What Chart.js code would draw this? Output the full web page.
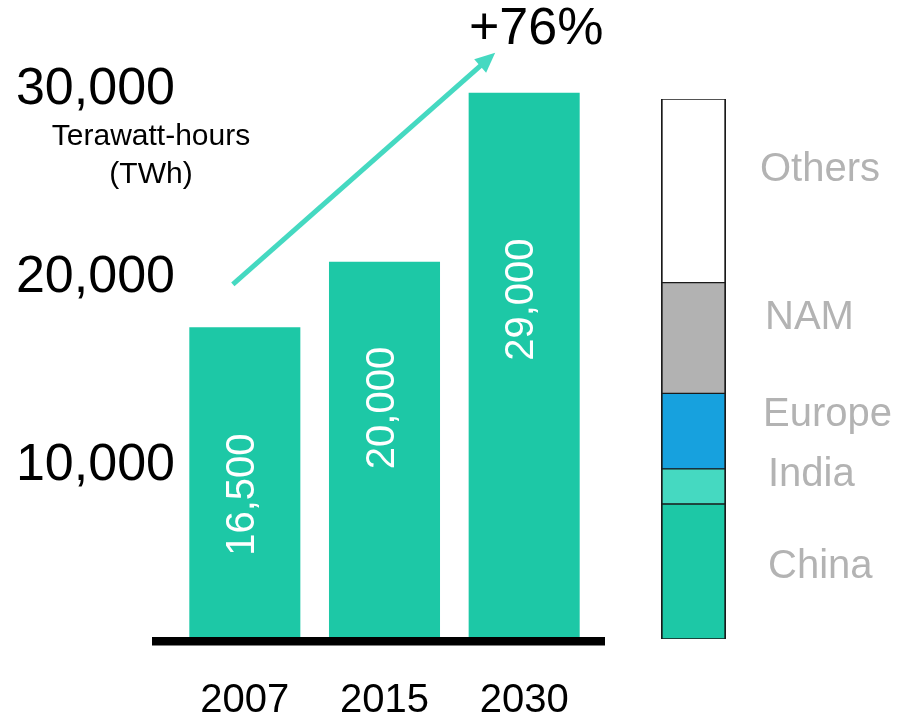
<!DOCTYPE html>
<html>
<head>
<meta charset="utf-8">
<title>Electricity demand</title>
<script src="https://cdn.jsdelivr.net/npm/chart.js@4/dist/chart.umd.min.js"></script>
<style>
  body { margin: 0; background: #fff; }
  #wrap { position: relative; width: 899px; height: 718px; }
  #demandChart { position: absolute; left: 0; top: 0; }
  #shareChart { position: absolute; left: 640px; top: 0; }
</style>
</head>
<body>
<div id="wrap">
  <canvas id="demandChart" width="640" height="718"></canvas>
  <canvas id="shareChart" width="259" height="718"></canvas>
</div>
<script>
// demand per year (TWh)
const years = ["2007", "2015", "2030"];
const demandTWh = [16500, 20000, 29000];
const yTickStep = 10000;
const yMax = 30000;

// 2030 split by region (%)
const regions = ["China", "India", "Europe", "NAM", "Others"];
const regionShare = [25, 6.5, 14, 20.5, 34];

const barColor = "#1DC8A6";
const arrowColor = "#45D9C1";
const regionColors = ["#1DC8A6", "#45D9C1", "#17A1DE", "#B2B2B2", "#FFFFFF"];

Chart.defaults.font.family = "'Liberation Sans', Arial, sans-serif";
Chart.defaults.color = "#000";

function fmt(v) {
  return v.toLocaleString("en-US");
}

// thick baseline under the bars
const baseline = {
  id: "baseline",
  afterDatasetsDraw(chart) {
    const { ctx, chartArea } = chart;
    ctx.save();
    ctx.fillStyle = "#000";
    ctx.fillRect(chartArea.left - 23, chartArea.bottom, chartArea.right - chartArea.left + 34, 8.5);
    ctx.restore();
  },
};

// rotated value inside each bar
const labelRise = [0.46, 0.61, 0.62];
const barValues = {
  id: "barValues",
  afterDatasetsDraw(chart) {
    const { ctx } = chart;
    const meta = chart.getDatasetMeta(0);
    ctx.save();
    ctx.fillStyle = "#fff";
    ctx.font = "40px 'Liberation Sans', Arial, sans-serif";
    ctx.textAlign = "center";
    ctx.textBaseline = "middle";
    meta.data.forEach((bar, i) => {
      const y = bar.base - (bar.base - bar.y) * labelRise[i];
      ctx.save();
      ctx.translate(bar.x - 2, y);
      ctx.rotate(-Math.PI / 2);
      ctx.fillText(fmt(demandTWh[i]), 0, 0);
      ctx.restore();
    });
    ctx.restore();
  },
};

// growth arrow, unit caption and percentage
const growth = {
  id: "growth",
  afterDraw(chart) {
    const { ctx } = chart;
    const x = chart.scales.x;
    const y = chart.scales.y;
    const last = demandTWh.length - 1;
    const x0 = x.getPixelForValue(0) - 12;
    const y0 = y.getPixelForValue(demandTWh[0]) - 43;
    const x1 = x.getPixelForValue(last) - 29;
    const y1 = y.getPixelForValue(demandTWh[last]) - 40;
    const ang = Math.atan2(y1 - y0, x1 - x0);
    const head = 20;
    const half = 9;

    ctx.save();
    ctx.strokeStyle = arrowColor;
    ctx.fillStyle = arrowColor;
    ctx.lineWidth = 5;
    ctx.beginPath();
    ctx.moveTo(x0, y0);
    ctx.lineTo(x1 - Math.cos(ang) * head * 0.8, y1 - Math.sin(ang) * head * 0.8);
    ctx.stroke();
    ctx.beginPath();
    ctx.moveTo(x1, y1);
    ctx.lineTo(x1 - Math.cos(ang) * head - Math.sin(ang) * half, y1 - Math.sin(ang) * head + Math.cos(ang) * half);
    ctx.lineTo(x1 - Math.cos(ang) * head + Math.sin(ang) * half, y1 - Math.sin(ang) * head - Math.cos(ang) * half);
    ctx.closePath();
    ctx.fill();

    const pct = Math.round((demandTWh[last] / demandTWh[0] - 1) * 100);
    ctx.fillStyle = "#000";
    ctx.textAlign = "center";
    ctx.textBaseline = "middle";
    ctx.font = "52px 'Liberation Sans', Arial, sans-serif";
    ctx.fillText("+" + pct + "%", x1 + 41, y1 - 23);

    ctx.font = "30px 'Liberation Sans', Arial, sans-serif";
    const ty = y.getPixelForValue(yMax);
    ctx.fillText("Terawatt-hours", y.right - 24, ty + 63);
    ctx.fillText("(TWh)", y.right - 24, ty + 101);
    ctx.restore();
  },
};

new Chart(document.getElementById("demandChart"), {
  type: "bar",
  data: {
    labels: years,
    datasets: [
      {
        data: demandTWh,
        backgroundColor: barColor,
        barPercentage: 0.795,
        categoryPercentage: 1,
      },
    ],
  },
  options: {
    responsive: false,
    animation: false,
    layout: { padding: { top: 74, right: 46, bottom: 0, left: 0 } },
    plugins: { legend: { display: false }, tooltip: { enabled: false } },
    scales: {
      x: {
        grid: { display: false, drawTicks: false },
        border: { display: false },
        ticks: { font: { size: 40 }, color: "#000", padding: 40 },
        afterFit: (s) => {
          s.height = 81;
        },
      },
      y: {
        min: 0,
        max: yMax,
        grid: { display: false, drawTicks: false },
        border: { display: false },
        ticks: {
          stepSize: yTickStep,
          font: { size: 52 },
          color: "#000",
          padding: 0,
          labelOffset: 16,
          callback: (v) => (v ? fmt(v) : ""),
        },
        afterFit: (s) => {
          s.width = 175;
        },
      },
    },
  },
  plugins: [baseline, barValues, growth],
});

// region names beside the stacked column
const labelNudge = [
  [0, -5],
  [0, -11],
  [-5, -16],
  [-3, -20],
  [-8, -21],
];
const regionLabels = {
  id: "regionLabels",
  afterDraw(chart) {
    const { ctx, chartArea } = chart;
    ctx.save();
    ctx.fillStyle = "#B3B3B3";
    ctx.font = "40px 'Liberation Sans', Arial, sans-serif";
    ctx.textAlign = "left";
    ctx.textBaseline = "middle";
    chart.data.datasets.forEach((ds, i) => {
      const bar = chart.getDatasetMeta(i).data[0];
      const cy = (bar.y + bar.base) / 2;
      ctx.fillText(ds.label, chartArea.right + 42 + labelNudge[i][0], cy + labelNudge[i][1]);
    });
    ctx.restore();
  },
};

new Chart(document.getElementById("shareChart"), {
  type: "bar",
  data: {
    labels: ["2030"],
    datasets: regions.map((name, i) => ({
      label: name,
      data: [regionShare[i]],
      backgroundColor: regionColors[i],
      borderColor: "#1a1a1a",
      borderWidth: { top: 1, bottom: 1, left: 2, right: 2 },
      borderSkipped: false,
      barPercentage: 1,
      categoryPercentage: 1,
    })),
  },
  options: {
    responsive: false,
    animation: false,
    layout: { padding: { top: 99, right: 173, bottom: 79, left: 21 } },
    plugins: { legend: { display: false }, tooltip: { enabled: false } },
    scales: {
      x: { stacked: true, display: false },
      y: { stacked: true, display: false, min: 0, max: 100 },
    },
  },
  plugins: [regionLabels],
});
</script>
</body>
</html>
